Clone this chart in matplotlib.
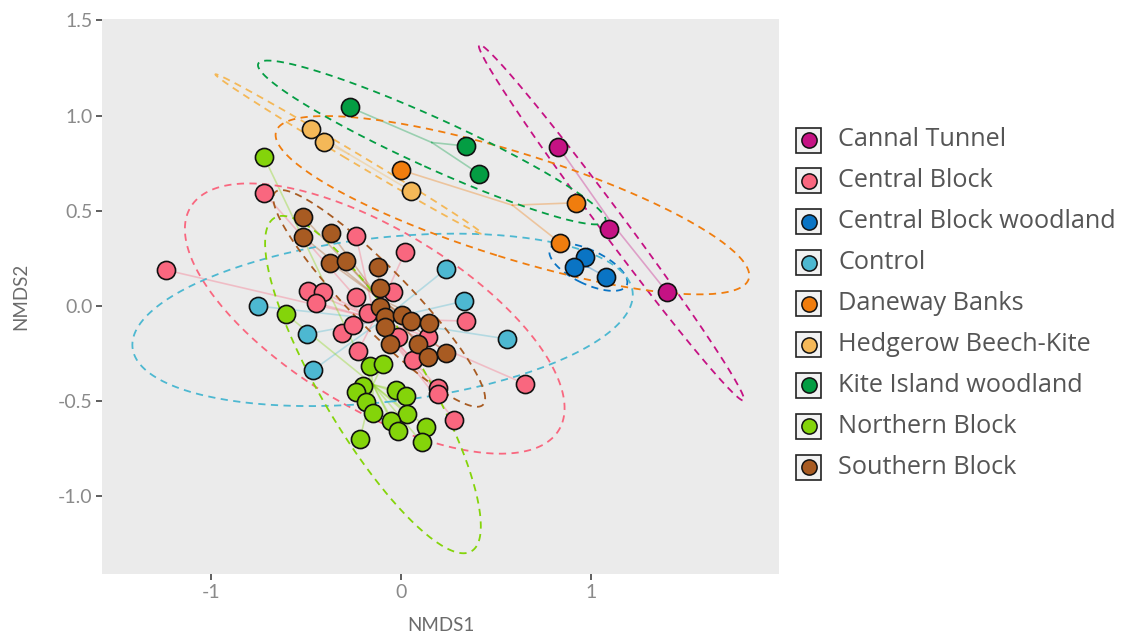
import numpy as np
import matplotlib.pyplot as plt
from matplotlib.patches import Rectangle

plt.rcParams['font.family'] = ['Lato', 'DejaVu Sans']

groups = ["Cannal Tunnel", "Central Block", "Central Block woodland", "Control",
          "Daneway Banks", "Hedgerow Beech-Kite", "Kite Island woodland",
          "Northern Block", "Southern Block"]
colors = ["#C51284", "#F9677F", "#0A74C4", "#4DB8D1", "#F07D0E",
          "#F4B858", "#049D43", "#84D40A", "#A85B22"]

# NMDS scores
canal_x = [0.828, 1.095, 1.398]
canal_y = [0.836, 0.403, 0.075]

central_x = [-1.237, -0.721, -0.237, 0.021, -0.489, -0.411, -0.447, -0.237, -0.174,
             -0.311, -0.253, -0.226, -0.042, -0.016, 0.142, 0.063, 0.342, 0.195,
             0.195, 0.279, 0.653]
central_y = [0.189, 0.593, 0.367, 0.283, 0.079, 0.073, 0.016, 0.047, -0.037,
             -0.142, -0.100, -0.236, 0.073, -0.163, -0.163, -0.283, -0.079, -0.430,
             -0.462, -0.598, -0.409]

cbwood_x = [0.968, 0.912, 1.077]
cbwood_y = [0.256, 0.203, 0.154]

control_x = [-0.753, -0.495, -0.463, 0.237, 0.332, 0.558]
control_y = [0.000, -0.147, -0.336, 0.194, 0.026, -0.173]

daneway_x = [0.000, 0.921, 0.837]
daneway_y = [0.714, 0.542, 0.332]

hedge_x = [-0.475, -0.405, 0.053]
hedge_y = [0.928, 0.862, 0.604]

kite_x = [-0.268, 0.341, 0.412]
kite_y = [1.043, 0.840, 0.693]

north_x = [-0.721, -0.607, -0.163, -0.096, -0.198, -0.237, -0.186, -0.149, -0.216,
           -0.026, 0.026, 0.033, -0.053, -0.016, 0.132, 0.109]
north_y = [0.782, -0.042, -0.315, -0.304, -0.418, -0.450, -0.502, -0.560, -0.698,
           -0.441, -0.472, -0.569, -0.604, -0.656, -0.634, -0.716]

south_x = [-0.514, -0.514, -0.370, -0.374, -0.289, -0.121, -0.111, -0.111, -0.084,
           -0.084, 0.003, 0.053, 0.147, -0.058, 0.091, 0.144, 0.237]
south_y = [0.466, 0.362, 0.383, 0.228, 0.234, 0.205, 0.093, -0.004, -0.058,
           -0.110, -0.047, -0.079, -0.087, -0.197, -0.197, -0.266, -0.245]

xs = [canal_x, central_x, cbwood_x, control_x, daneway_x, hedge_x, kite_x, north_x, south_x]
ys = [canal_y, central_y, cbwood_y, control_y, daneway_y, hedge_y, kite_y, north_y, south_y]


def cov_ellipse(x, y, scale=np.sqrt(5.991), n=200):
    # 95% sd ellipse, as vegan's ordiellipse does it
    c = np.cov(x, y)
    vals, vecs = np.linalg.eigh(c)
    t = np.linspace(0, 2 * np.pi, n)
    circ = np.vstack([np.cos(t), np.sin(t)])
    pts = vecs @ (np.sqrt(np.clip(vals, 0, None))[:, None] * circ) * scale
    return np.mean(x) + pts[0], np.mean(y) + pts[1]


fig = plt.figure(figsize=(11.26, 6.39), dpi=100)
ax = fig.add_axes([102 / 1126, 1 - 574 / 639, 677 / 1126, 555 / 639])
ax.set_facecolor("#EBEBEB")

for x, y, col in zip(xs, ys, colors):
    x = np.array(x)
    y = np.array(y)
    cx, cy = x.mean(), y.mean()
    for xi, yi in zip(x, y):
        ax.plot([cx, xi], [cy, yi], color=col, lw=1.2, alpha=0.35, zorder=2)
    ex, ey = cov_ellipse(x, y)
    ax.plot(ex, ey, color=col, lw=1.3, ls=(0, (4, 3)), zorder=3)

for x, y, col in zip(xs, ys, colors):
    ax.scatter(x, y, s=170, c=col, edgecolors="#111111", linewidths=1.2, zorder=5)

ax.set_xlim(-1.574, 1.989)
ax.set_ylim(-1.407, 1.507)
ax.set_xticks([-1, 0, 1])
ax.set_xticklabels(["-1", "0", "1"])
ax.set_yticks([-1.0, -0.5, 0.0, 0.5, 1.0, 1.5])
ax.set_yticklabels(["-1.0", "-0.5", "0.0", "0.5", "1.0", "1.5"])
ax.tick_params(colors="#333333", labelcolor="#8a8a8a", labelsize=14, length=4,
               width=1.1, pad=3)
for s in ax.spines.values():
    s.set_visible(False)
ax.set_xlabel("NMDS1", fontsize=13.5, color="#6b6b6b", labelpad=12)
ax.set_ylabel("NMDS2", fontsize=13.5, color="#6b6b6b", labelpad=20)

# legend, drawn by hand in pixel coordinates
lax = fig.add_axes([0, 0, 1, 1])
lax.set_xlim(0, 1126)
lax.set_ylim(639, 0)
lax.axis("off")
y0, dy = 140, 40.9
for i, (g, col) in enumerate(zip(groups, colors)):
    yc = y0 + i * dy
    lax.add_patch(Rectangle((796, yc - 12.5), 25, 25, facecolor="#F2F2F2",
                            edgecolor="#222222", lw=1.2))
    lax.scatter([808.5], [yc], s=120, c=col, edgecolors="#111111", linewidths=1.1, zorder=3)
    lax.text(838, yc, g, fontsize=18.2, color="#555555", va="center", ha="left",
             family=["Open Sans", "DejaVu Sans"])

fig.savefig("out.png", dpi=100)
